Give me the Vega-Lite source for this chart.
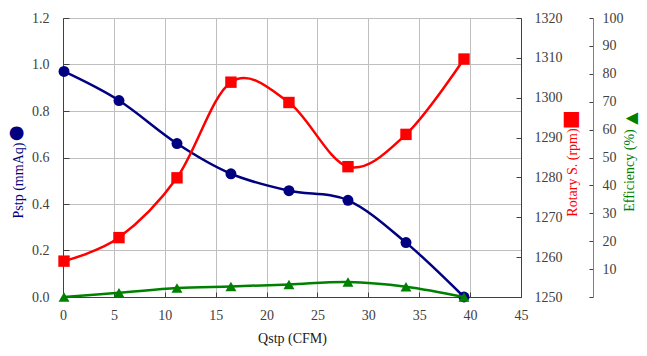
{
  "$schema": "https://vega.github.io/schema/vega-lite/v6.json",
  "width": 458,
  "height": 279,
  "autosize": {"type": "none"},
  "padding": {"left": 63, "top": 18, "right": 126, "bottom": 59},
  "background": "white",
  "config": {
    "font": "Liberation Serif",
    "view": {"stroke": "#BFBFBF"},
    "axis": {
      "labelFont": "Liberation Serif",
      "labelFontSize": 14,
      "labelColor": "#404040",
      "domainColor": "#404040",
      "tickColor": "#404040",
      "gridColor": "#BFBFBF",
      "titleFont": "Liberation Serif",
      "titleFontSize": 14,
      "titleFontWeight": "normal",
      "labelFlush": false,
      "labelOverlap": false
    }
  },
  "data": {
    "values": [
      {"q": 0.1, "pstp": 0.97, "rpm": 1259.0, "eff": 0.0},
      {"q": 5.5, "pstp": 0.845, "rpm": 1264.9, "eff": 1.5},
      {"q": 11.2, "pstp": 0.66, "rpm": 1279.9, "eff": 3.2},
      {"q": 16.5, "pstp": 0.53, "rpm": 1303.9, "eff": 3.8},
      {"q": 22.2, "pstp": 0.457, "rpm": 1298.8, "eff": 4.5},
      {"q": 28.0, "pstp": 0.416, "rpm": 1282.7, "eff": 5.4},
      {"q": 33.7, "pstp": 0.234, "rpm": 1290.8, "eff": 3.7},
      {"q": 39.4, "pstp": 0.0, "rpm": 1309.7, "eff": 0.0}
    ]
  },
  "encoding": {
    "x": {
      "field": "q",
      "type": "quantitative",
      "scale": {"domain": [0, 45], "nice": false, "zero": false},
      "axis": {
        "values": [0, 5, 10, 15, 20, 25, 30, 35, 40, 45],
        "title": "Qstp (CFM)",
        "titleColor": "#202020",
        "titleY": 41,
        "titleBaseline": "middle",
        "grid": true,
        "tickSize": -5,
        "labelPadding": 16
      }
    }
  },
  "layer": [
    {
      "mark": {
        "type": "line",
        "interpolate": "cardinal",
        "tension": 0,
        "color": "#000080",
        "strokeWidth": 2.5,
        "point": {"filled": true, "shape": "circle", "size": 120, "color": "#000080"}
      },
      "encoding": {
        "y": {
          "field": "pstp",
          "type": "quantitative",
          "scale": {"domain": [0, 1.2], "nice": false},
          "axis": {
            "orient": "left",
            "values": [0, 0.2, 0.4, 0.6, 0.8, 1.0, 1.2],
            "format": ".1f",
            "grid": true,
            "tickSize": -6,
            "labelPadding": 20,
            "title": "Pstp (mmAq)",
            "titleColor": "#000080",
            "titleAngle": 270,
            "titleX": -45,
            "titleY": 162,
            "titleAlign": "center",
            "titleBaseline": "middle"
          }
        }
      }
    },
    {
      "mark": {
        "type": "line",
        "interpolate": "cardinal",
        "tension": 0,
        "color": "#FF0000",
        "strokeWidth": 2.5,
        "point": {"filled": true, "shape": "square", "size": 130, "color": "#FF0000"}
      },
      "encoding": {
        "y": {
          "field": "rpm",
          "type": "quantitative",
          "scale": {"domain": [1250, 1320], "nice": false, "zero": false},
          "axis": {
            "orient": "right",
            "values": [1250, 1260, 1270, 1280, 1290, 1300, 1310, 1320],
            "format": "d",
            "grid": false,
            "tickSize": -5,
            "labelPadding": 18,
            "title": "Rotary S. (rpm)",
            "titleColor": "#FF0000",
            "titleAngle": 270,
            "titleX": 51,
            "titleY": 154,
            "titleAlign": "center",
            "titleBaseline": "middle"
          }
        }
      }
    },
    {
      "mark": {
        "type": "line",
        "interpolate": "cardinal",
        "tension": 0,
        "color": "#008000",
        "strokeWidth": 2.5,
        "point": {"filled": true, "shape": "triangle-up", "size": 120, "color": "#008000"}
      },
      "encoding": {
        "y": {
          "field": "eff",
          "type": "quantitative",
          "scale": {"domain": [0, 100], "nice": false},
          "axis": {
            "orient": "right",
            "offset": 72,
            "values": [0, 10, 20, 30, 40, 50, 60, 70, 80, 90, 100],
            "labelExpr": "datum.value == 0 ? '' : datum.label",
            "grid": false,
            "tickSize": -4,
            "labelPadding": 13,
            "domainColor": "#808080",
            "title": "Efficiency (%)",
            "titleColor": "#008000",
            "titleAngle": 270,
            "titleX": 36,
            "titleY": 152,
            "titleAlign": "center",
            "titleBaseline": "middle"
          }
        }
      }
    },
    {
      "mark": {"type": "point", "opacity": 0},
      "encoding": {
        "y": {
          "field": "pstp",
          "type": "quantitative",
          "scale": {"domain": [0, 1.2], "nice": false},
          "axis": {
            "orient": "left",
            "labels": false,
            "ticks": false,
            "domain": false,
            "grid": false,
            "title": "●",
            "titleFont": "DejaVu Sans",
            "titleFontSize": 18,
            "titleColor": "#000080",
            "titleAngle": 0,
            "titleX": -47,
            "titleY": 114,
            "titleAlign": "center",
            "titleBaseline": "middle"
          }
        }
      }
    },
    {
      "mark": {"type": "point", "opacity": 0},
      "encoding": {
        "y": {
          "field": "rpm",
          "type": "quantitative",
          "scale": {"domain": [1250, 1320], "nice": false, "zero": false},
          "axis": {
            "orient": "right",
            "labels": false,
            "ticks": false,
            "domain": false,
            "grid": false,
            "title": "■",
            "titleFont": "DejaVu Sans",
            "titleFontSize": 20,
            "titleColor": "#FF0000",
            "titleAngle": 0,
            "titleX": 50,
            "titleY": 100,
            "titleAlign": "center",
            "titleBaseline": "middle"
          }
        }
      }
    },
    {
      "mark": {"type": "point", "opacity": 0},
      "encoding": {
        "y": {
          "field": "eff",
          "type": "quantitative",
          "scale": {"domain": [0, 100], "nice": false},
          "axis": {
            "orient": "right",
            "offset": 72,
            "labels": false,
            "ticks": false,
            "domain": false,
            "grid": false,
            "title": "▲",
            "titleFont": "DejaVu Sans",
            "titleFontSize": 16,
            "titleColor": "#008000",
            "titleAngle": 270,
            "titleX": 37,
            "titleY": 100,
            "titleAlign": "center",
            "titleBaseline": "middle"
          }
        }
      }
    }
  ],
  "resolve": {"scale": {"y": "independent"}, "axis": {"y": "independent"}}
}
